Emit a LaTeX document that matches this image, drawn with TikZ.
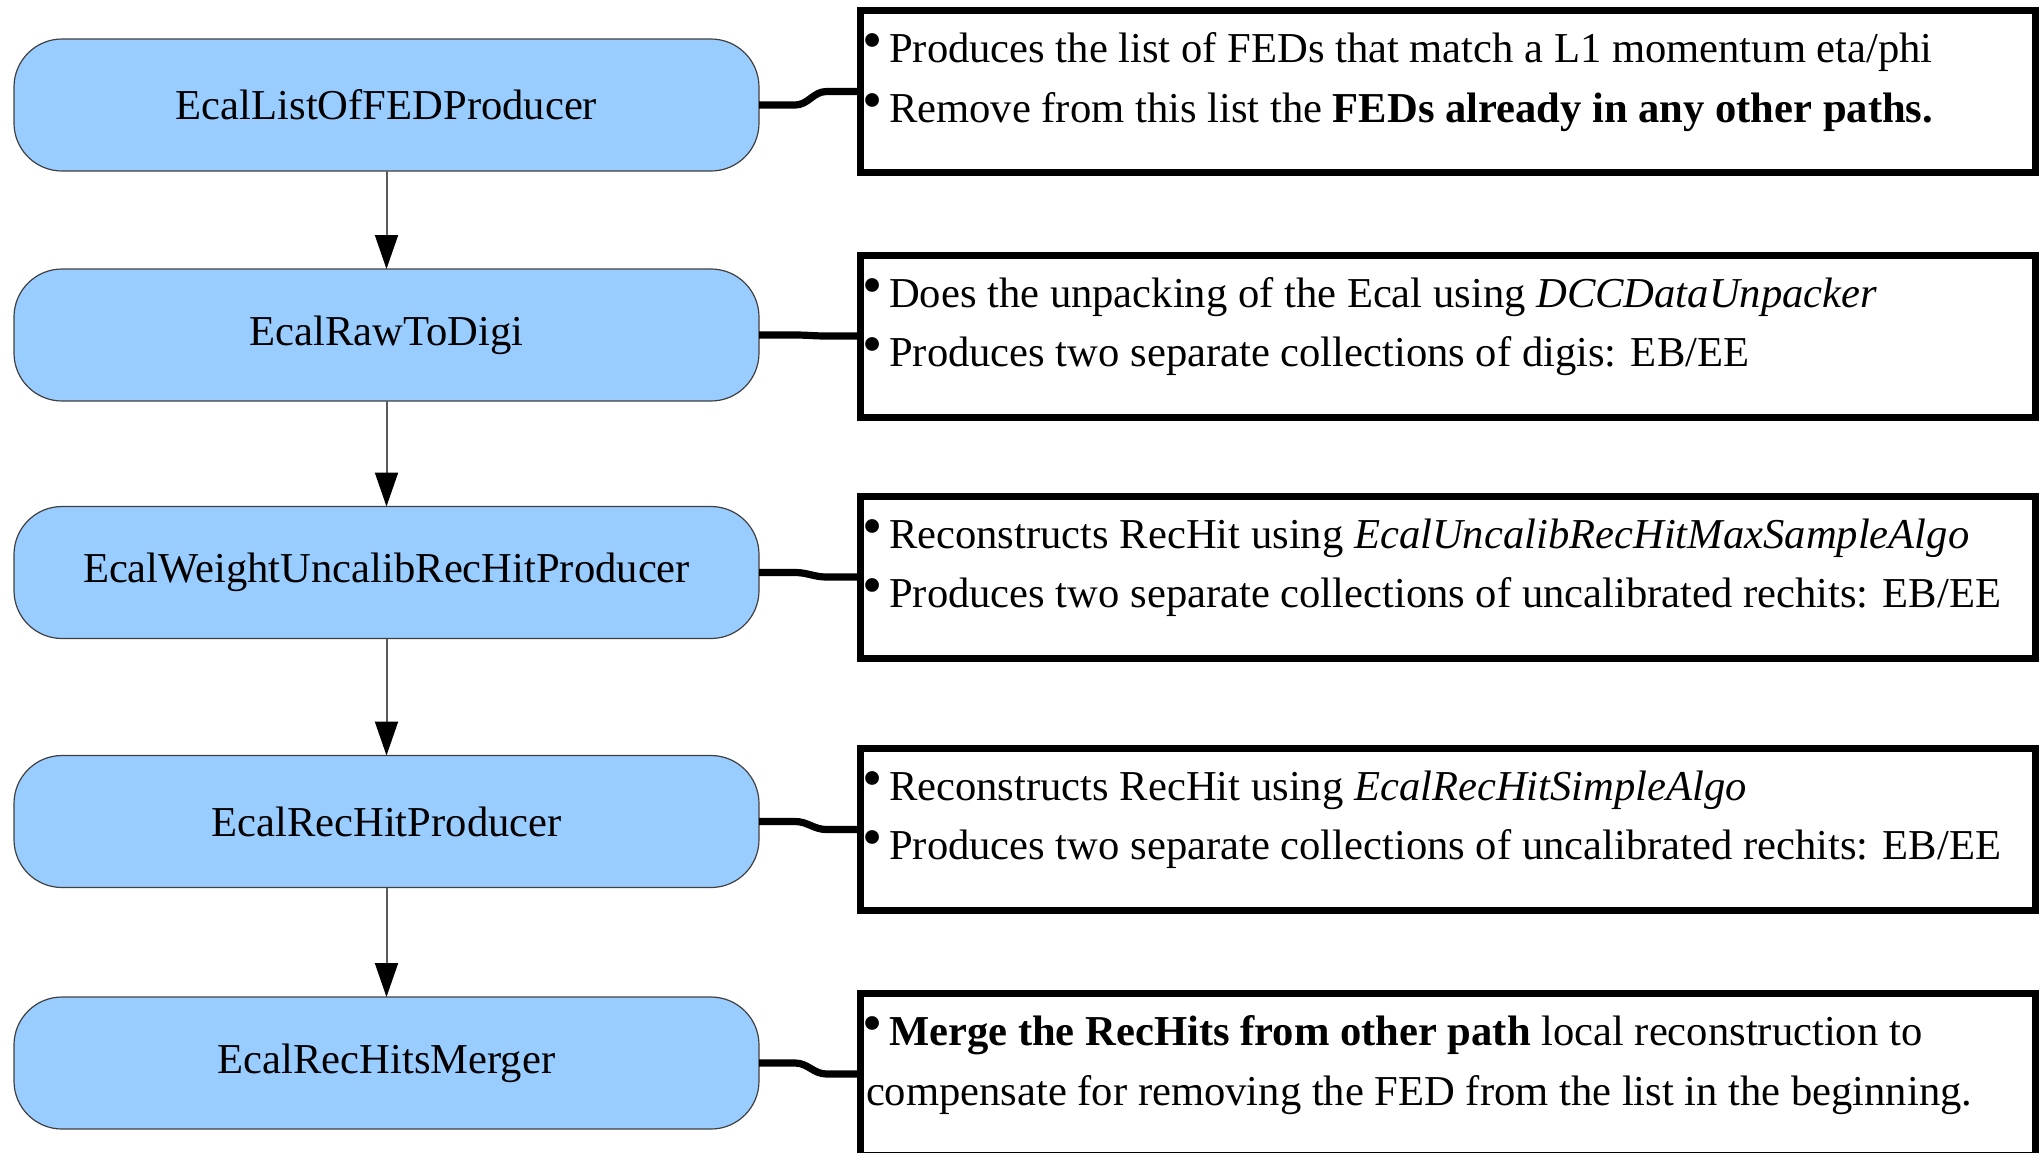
\documentclass[tikz,border=0pt]{standalone}
\usepackage{fontspec}
\usepackage{graphicx}
\setmainfont{Liberation Serif}
\usetikzlibrary{arrows.meta,calc}
\definecolor{pillblue}{RGB}{153,204,255}
\definecolor{flowgrey}{RGB}{90,90,90}
\newcommand{\bul}{\hspace{-1.5pt}\raisebox{1.3pt}{\scalebox{1.35}{\textbullet}}\hspace{3.5pt}}
\begin{document}
\begin{tikzpicture}[x=0.5pt,y=-0.5pt,
  every node/.style={font=\fontsize{21.3}{25}\selectfont},
  pill/.style={draw=black!75, line width=0.6pt, fill=pillblue, rounded corners=24pt,
    minimum width=372.5pt, minimum height=66pt, inner sep=0pt, outer sep=0pt},
  infobox/.style={draw=black, line width=3.5pt, fill=white,
    minimum width=587.25pt, minimum height=81pt, inner sep=0pt, outer sep=0pt},
  line/.style={anchor=base west, inner sep=0pt, outer sep=0pt},
  flow/.style={draw=flowgrey, line width=1pt,
    -{Triangle[length=17pt,width=11.5pt,color=black]}},
  conn/.style={draw=black, line width=3.6pt, line join=round}]
\useasboundingbox (0,0) rectangle (2039,1152);

% processing chain
\node[pill] (p1) at (386.5,105)    {EcalListOfFEDProducer};
\node[pill] (p2) at (386.5,335)    {EcalRawToDigi};
\node[pill] (p3) at (386.5,572.5)  {EcalWeightUncalibRecHitProducer};
\node[pill] (p4) at (386.5,821.5)  {EcalRecHitProducer};
\node[pill] (p5) at (386.5,1063)   {EcalRecHitsMerger};

\draw[flow] (p1.south) -- (p2.north);
\draw[flow] (p2.south) -- (p3.north);
\draw[flow] (p3.south) -- (p4.north);
\draw[flow] (p4.south) -- (p5.north);

% description boxes
\node[infobox] (b1) at (1447.75,91.5)  {};
\node[infobox] (b2) at (1447.75,336)   {};
\node[infobox] (b3) at (1447.75,577)   {};
\node[infobox] (b4) at (1447.75,829.5) {};
\node[infobox] (b5) at (1447.75,1074)  {};

\node[line] (t1a) at (865,62)  {\bul Produces the list of FEDs that match a L1 momentum eta/phi};
\node[line] (t1b) at (865,122) {\bul Remove from this list the \textbf{FEDs already in any other paths.}};
\node[line] (t2a) at (865,307) {\bul Does the unpacking of the Ecal using \textit{DCCDataUnpacker}};
\node[line] (t2b) at (865,366) {\bul Produces two separate collections of digis: EB/EE};
\node[line] (t3a) at (865,548) {\bul Reconstructs RecHit using \textit{EcalUncalibRecHitMaxSampleAlgo}};
\node[line] (t3b) at (865,607) {\bul Produces two separate collections of uncalibrated rechits: EB/EE};
\node[line] (t4a) at (865,800) {\bul Reconstructs RecHit using \textit{EcalRecHitSimpleAlgo}};
\node[line] (t4b) at (865,859) {\bul Produces two separate collections of uncalibrated rechits: EB/EE};
\node[line] (t5a) at (865,1045) {\bul \textbf{Merge the RecHits from other path} local reconstruction to};
\node[line] (t5b) at (866,1105) {compensate for removing the FED from the list in the beginning.};

% links from each step to its description
\foreach \i in {1,...,5}{
  \draw[conn] (p\i.east) -- ++(36,0)
    to[out=0,in=180] ($(b\i.west)+(-17pt,0)$) -- (b\i.west);
}
\end{tikzpicture}
\end{document}
